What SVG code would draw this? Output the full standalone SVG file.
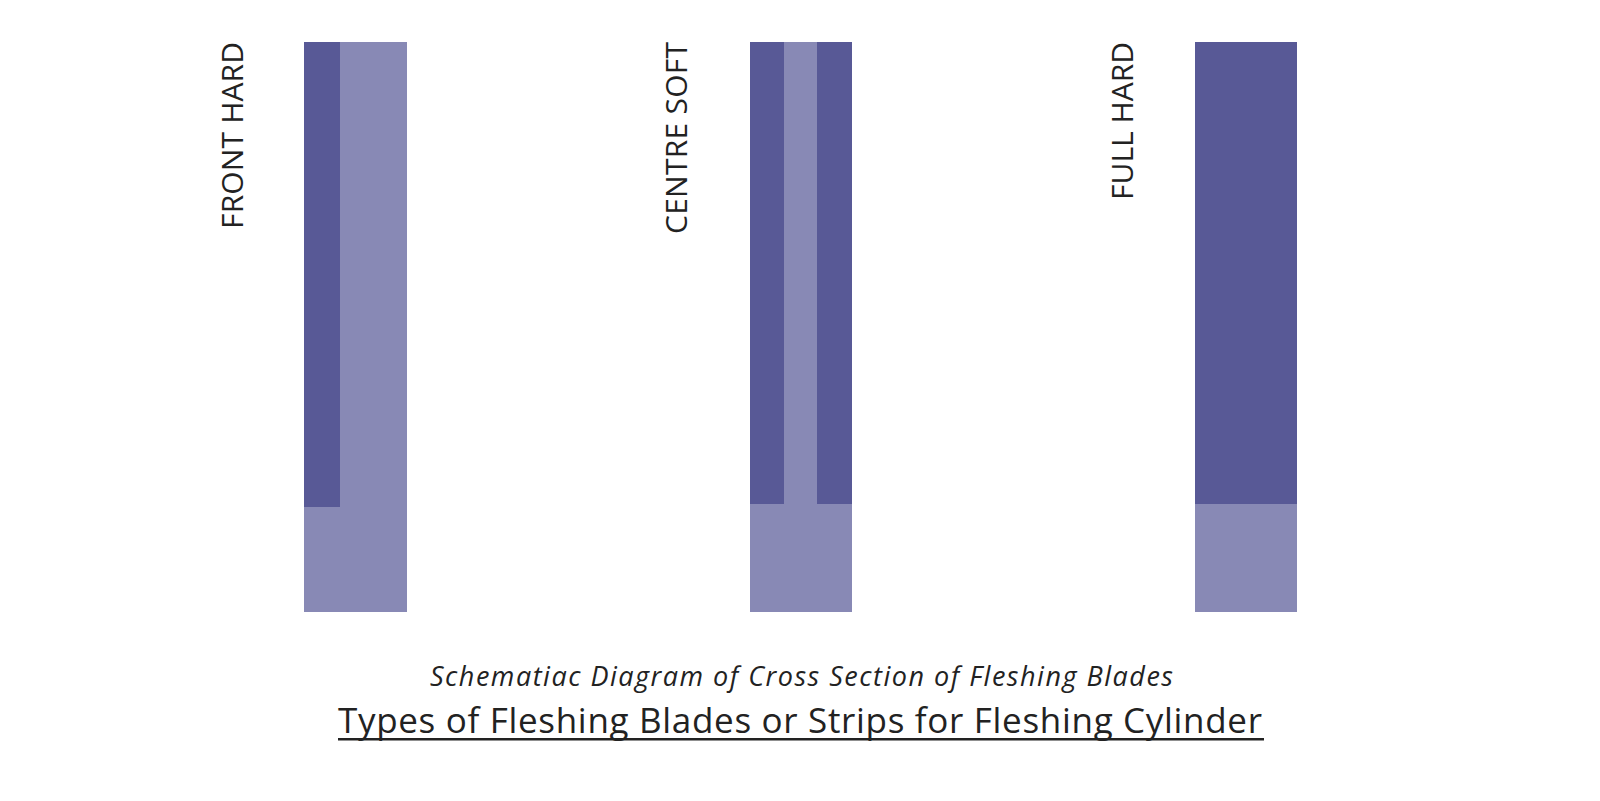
<svg xmlns="http://www.w3.org/2000/svg" width="1600" height="801" viewBox="0 0 1600 801">
<style>
.dark{fill:#585996}
.light{fill:#8889b5}
.lbl{font-family:"Open Sans","Liberation Sans",sans-serif;font-size:30px;fill:#222;text-anchor:end}
.sub{font-family:"Open Sans","Liberation Sans",sans-serif;font-style:italic;font-size:27px;fill:#222;text-anchor:middle}
.ttl{font-family:"Open Sans","Liberation Sans",sans-serif;font-size:35px;fill:#222;text-anchor:middle}
</style>
<rect width="1600" height="801" fill="#fff"/>
<g id="front-hard">
<rect class="light" x="304" y="42" width="103" height="570"/>
<rect class="dark" x="304" y="42" width="36" height="465"/>
<text class="lbl" transform="translate(243,42) rotate(-90)" textLength="187">FRONT HARD</text>
</g>
<g id="centre-soft">
<rect class="light" x="750" y="42" width="102" height="570"/>
<rect class="dark" x="750" y="42" width="34" height="462"/>
<rect class="dark" x="817" y="42" width="35" height="462"/>
<text class="lbl" transform="translate(687,42) rotate(-90)" textLength="192">CENTRE SOFT</text>
</g>
<g id="full-hard">
<rect class="light" x="1195" y="42" width="102" height="570"/>
<rect class="dark" x="1195" y="42" width="102" height="462"/>
<text class="lbl" transform="translate(1133,42) rotate(-90)" textLength="158">FULL HARD</text>
</g>
<g id="connectors"></g>
<g id="caption">
<text class="sub" x="801.5" y="686" textLength="743">Schematiac Diagram of Cross Section of Fleshing Blades</text>
<text class="ttl" x="800" y="733" textLength="924">Types of Fleshing Blades or Strips for Fleshing Cylinder</text>
<rect x="338" y="738" width="926" height="2.5" fill="#222"/>
</g>
</svg>
